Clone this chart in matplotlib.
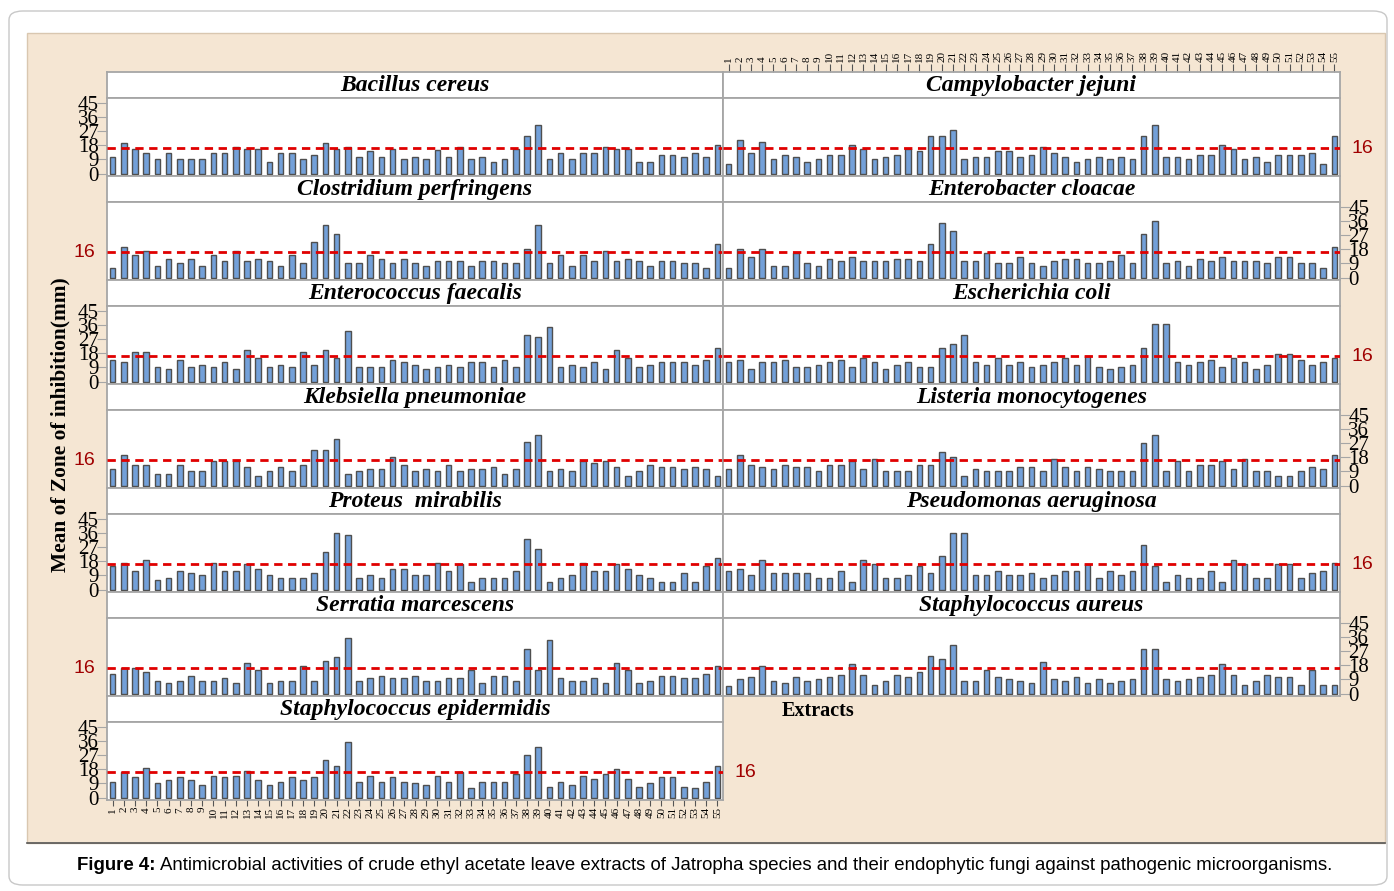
import numpy as np
import matplotlib.pyplot as plt
import matplotlib as mpl
from matplotlib.patches import Rectangle, FancyBboxPatch

mpl.rcParams['font.family'] = 'Liberation Serif'

# mean zone of inhibition (mm) for extracts 1..55
extracts = np.arange(1, 56)

bacillus_cereus = [10.5, 19.7, 15.8, 13, 9, 13, 9, 9, 9, 13, 13, 17, 15.8, 15.8, 7.7, 13, 13, 9, 11.8, 19.7,
                   15.8, 17, 10.5, 14.3, 10.5, 15.8, 9, 10.5, 9, 15, 10.5, 17, 9, 10.5, 7.7, 9, 15.8, 24, 30.6, 9,
                   13, 9, 13, 13, 17, 15.8, 15.8, 7.7, 7.7, 11.8, 11.8, 10.5, 13, 10.5, 18.4]
campylobacter_jejuni = [6.4, 21.2, 13, 19.9, 9, 11.8, 10.5, 7.7, 9, 11.8, 11.8, 18.4, 15.8, 9, 10.5, 11.8, 15.8, 14.3, 24, 24,
                        28, 9, 10.5, 10.5, 14.3, 14.3, 10.5, 11.8, 17, 13, 10.5, 7.7, 9, 10.5, 9, 10.5, 9, 24, 30.6, 10.5,
                        10.5, 9, 11.8, 11.8, 18.4, 15.8, 9, 10.5, 7.7, 11.8, 11.8, 11.8, 13, 6.4, 24]
clostridium_perfringens = [6, 19.7, 14.3, 17, 7.5, 11.6, 9, 11.6, 7.5, 14.3, 10.3, 17, 10.3, 11.6, 10.3, 7.5, 14.3, 9, 22.5, 33.2,
                           28, 9, 9, 14.3, 11.6, 9, 11.6, 9, 7.5, 10.3, 10.3, 10.3, 7.5, 10.3, 10.3, 9, 9, 18.4, 33.2, 9,
                           14.3, 7.5, 14.3, 10.3, 17, 10.3, 11.6, 10.3, 7.5, 10.3, 10.3, 9, 9, 6.2, 21.2]
enterobacter_cloacae = [6, 18.4, 13, 18.4, 7.5, 7.5, 15.6, 9, 7.5, 11.6, 10.3, 13, 10.3, 10.3, 10.3, 11.6, 11.6, 10.3, 21.2, 34.7,
                        29.3, 10.3, 10.3, 15.6, 9, 9, 13, 9, 7.5, 10.3, 11.6, 11.6, 9, 9, 10.3, 14.3, 9, 28, 36, 9,
                        10.3, 7.5, 11.6, 10.3, 13, 10.3, 10.3, 10.3, 9, 13, 13, 9, 9, 6.2, 19.7]
enterococcus_faecalis = [13.5, 12.2, 18.8, 18.8, 9.4, 7.9, 13.5, 9.4, 10.7, 9.4, 12.2, 7.9, 20.1, 14.8, 9.4, 10.7, 9.4, 18.8, 10.7, 20.1,
                         14.8, 32, 9.4, 9.4, 9.4, 13.5, 12.2, 10.7, 7.9, 9.4, 10.7, 9.4, 12.2, 12.2, 9.4, 13.5, 9.4, 29.5, 28.3, 34.9,
                         9.4, 10.7, 9.4, 12.2, 7.9, 20.1, 14.8, 9.4, 10.7, 12.2, 12.2, 12.2, 10.7, 13.5, 21.4]
escherichia_coli = [12.2, 13.5, 7.9, 12.2, 12.2, 13.5, 9.4, 9.4, 10.7, 12.2, 13.5, 9.4, 14.8, 12.2, 7.9, 10.7, 12.2, 9.4, 9.4, 21.4,
                    24.2, 29.5, 12.2, 10.7, 14.8, 10.7, 12.2, 9.4, 10.7, 12.2, 14.8, 10.7, 16, 9.4, 7.9, 9.4, 10.7, 21.4, 36.4, 36.4,
                    12.2, 10.7, 12.2, 13.5, 9.4, 14.8, 12.2, 7.9, 10.7, 17.3, 17.3, 13.5, 10.7, 12.2, 14.8]
klebsiella_pneumoniae = [10.3, 19.7, 13, 13, 7.5, 7.5, 13, 9, 9, 15.8, 15.8, 15.8, 11.6, 6.2, 9, 11.6, 9, 13, 22.5, 22.5,
                         29.3, 7.5, 9, 10.3, 10.3, 18.4, 13, 9, 10.3, 9, 13, 9, 10.3, 10.3, 11.6, 7.5, 10.3, 28, 32, 9,
                         10.3, 9, 15.8, 14.3, 15.8, 11.6, 6.2, 9, 13, 11.6, 11.6, 10.3, 11.6, 10.3, 6.2]
listeria_monocytogenes = [10.3, 19.7, 13, 11.6, 10.3, 13, 11.6, 11.6, 9, 13, 13, 15.8, 10.3, 17, 9, 9, 9, 13, 13, 21.2,
                          18.4, 6.2, 10.3, 9, 9, 9, 11.6, 11.6, 9, 17, 11.6, 9, 11.6, 10.3, 9, 9, 9, 26.8, 32, 9,
                          15.8, 9, 13, 13, 15.8, 10.3, 17, 9, 9, 6.2, 6.2, 9, 11.6, 10.3, 19.7]
proteus_mirabilis = [14.8, 17.1, 11.8, 18.6, 6.4, 7.7, 11.8, 10.5, 9.2, 17.1, 11.8, 11.8, 16, 13.3, 9.2, 7.7, 7.7, 7.7, 10.5, 24.2,
                     36.2, 34.9, 7.7, 9.2, 7.7, 13.3, 13.3, 9.2, 9.2, 17.1, 11.8, 16, 5.1, 7.7, 7.7, 7.7, 11.8, 32.1, 25.5, 5.1,
                     7.7, 9.2, 17.1, 11.8, 11.8, 16, 13.3, 9.2, 7.7, 5.1, 5.1, 10.5, 5.1, 14.8, 19.9]
pseudomonas_aeruginosa = [11.8, 13.3, 9.2, 18.6, 10.5, 10.5, 10.5, 10.5, 7.7, 7.7, 11.8, 5.1, 18.6, 16, 7.7, 7.7, 9.2, 14.8, 10.5, 21.4,
                          36.2, 36.2, 9.2, 9.2, 11.8, 9.2, 9.2, 10.5, 7.7, 9.2, 11.8, 11.8, 16, 7.7, 11.8, 9.2, 11.8, 28.3, 14.8, 5.1,
                          9.2, 7.7, 7.7, 11.8, 5.1, 18.6, 16, 7.7, 7.7, 16, 16, 7.7, 10.5, 11.8, 17.1]
serratia_marcescens = [12.5, 16.5, 16.5, 13.7, 8.3, 7, 8.3, 11, 8.3, 8.3, 9.7, 7, 19.3, 15.2, 7, 8.3, 8.3, 17.7, 8.3, 20.5,
                       23.1, 35.3, 8.3, 9.7, 11, 9.7, 9.7, 11, 8.3, 8.3, 9.7, 9.7, 15.2, 7, 11, 11, 8.3, 28.6, 15.2, 34,
                       9.7, 8.3, 8.3, 9.7, 7, 19.3, 15.2, 7, 8.3, 11, 11, 9.7, 9.7, 12.5, 17.7]
staphylococcus_aureus = [5.1, 9.4, 10.7, 17.6, 7.9, 6.6, 10.7, 7.9, 9.4, 10.7, 12, 18.9, 12, 5.4, 7.9, 12, 10.7, 13.5, 24.2, 21.8,
                         31, 7.9, 7.9, 15, 10.7, 9.4, 7.9, 6.6, 20.3, 9.4, 7.9, 10.7, 6.6, 9.4, 6.6, 7.9, 9.4, 28.5, 28.5, 9.4,
                         7.9, 9.4, 10.7, 12, 18.9, 12, 5.4, 7.9, 12, 10.7, 10.7, 5.4, 15, 5.4, 5.4]
staphylococcus_epidermidis = [10, 16, 13, 19, 9, 11, 13, 11, 8, 14, 13, 14, 17, 11, 8, 10, 13, 11, 13, 24,
                              20, 35, 10, 14, 10, 13, 10, 9, 8, 14, 10, 16, 6, 10, 10, 10, 15, 27, 32, 7,
                              10, 8, 14, 12, 15, 18, 12, 7, 9, 13, 13, 7, 6, 10, 20]

organisms = ['Bacillus cereus', 'Campylobacter jejuni', 'Clostridium perfringens', 'Enterobacter cloacae',
             'Enterococcus faecalis', 'Escherichia coli', 'Klebsiella pneumoniae', 'Listeria monocytogenes',
             'Proteus  mirabilis', 'Pseudomonas aeruginosa', 'Serratia marcescens', 'Staphylococcus aureus',
             'Staphylococcus epidermidis']
values = [bacillus_cereus, campylobacter_jejuni, clostridium_perfringens, enterobacter_cloacae,
          enterococcus_faecalis, escherichia_coli, klebsiella_pneumoniae, listeria_monocytogenes,
          proteus_mirabilis, pseudomonas_aeruginosa, serratia_marcescens, staphylococcus_aureus,
          staphylococcus_epidermidis]

ref_line = 16
yticks = [0, 9, 18, 27, 36, 45]

W, H = 1394, 891
fig = plt.figure(figsize=(W / 100, H / 100), dpi=100)


def box(x0, y0, x1, y1):
    # pixel box (top-left origin) -> figure fraction rect
    return [x0 / W, 1 - y1 / H, (x1 - x0) / W, (y1 - y0) / H]


# page frame and beige panel, kept behind the axes
fig.patches.append(FancyBboxPatch((9 / W, 1 - 885 / H), 1378 / W, 874 / H,
                                  boxstyle='round,pad=0,rounding_size=0.01',
                                  transform=fig.transFigure, fc='white', ec='#c8c8c8', lw=1, zorder=-3))
fig.patches.append(Rectangle((27 / W, 1 - 843 / H), 1358 / W, 810 / H, transform=fig.transFigure,
                             fc='#f5e6d3', ec='#d9c7b0', lw=1, zorder=-2))
fig.lines.append(plt.Line2D([27 / W, 1385 / W], [1 - 843 / H, 1 - 843 / H], transform=fig.transFigure,
                            color='#555555', lw=1.2, zorder=-1))

frame_col = '#a6a6a6'
col_x = [(107, 723), (723, 1340)]

for k, (name, vals) in enumerate(zip(organisms, values)):
    row, col = divmod(k, 2)
    x0, x1 = col_x[col]
    top = 72 + 104 * row
    strip = fig.add_axes(box(x0, top, x1, top + 26))
    ax = fig.add_axes(box(x0, top + 26, x1, top + 104))

    strip.set_xlim(0.5, 55.5)
    strip.set_yticks([])
    strip.set_xticks([])
    strip.text(0.5, 0.47, name, transform=strip.transAxes, ha='center', va='center',
               fontsize=17, fontweight='bold', fontstyle='italic')

    ax.bar(extracts, vals, width=0.5, color='#73a0d9', edgecolor='#4f4f4f', linewidth=1.0, zorder=2)
    ax.axhline(ref_line, color='#e00000', lw=2, dashes=(3, 2), zorder=3)
    ax.set_xlim(0.5, 55.5)
    ax.set_ylim(-1.5, 48)
    ax.set_xticks([])

    for a in (strip, ax):
        for sp in a.spines.values():
            sp.set_color(frame_col)
            sp.set_linewidth(1.3)

    # left column: odd rows carry the scale, even rows the reference value; right column swaps
    show_scale = (row % 2 == 0) if col == 0 else (row % 2 == 1)
    side = 'left' if col == 0 else 'right'
    if show_scale:
        ax.set_yticks(yticks)
        ax.tick_params(axis='y', which='both', left=(side == 'left'), right=(side == 'right'),
                       labelleft=(side == 'left'), labelright=(side == 'right'),
                       length=7, color=frame_col, labelsize=15, pad=-1)
    else:
        ax.set_yticks([])
    if not show_scale or (col == 0 and row == 6):
        lx = -0.036 if (col == 0 and row != 6) else 1.036
        ax.text(lx, ref_line, '16', transform=ax.get_yaxis_transform(), ha='center', va='center',
                color='#a00000', fontsize=14, family='Liberation Sans')

    if row == 0 and col == 1:
        strip.xaxis.tick_top()
        strip.set_xticks(extracts)
        strip.set_xticklabels([str(i) for i in extracts], rotation=90, fontsize=8)
        strip.tick_params(axis='x', length=6, color='#555555', pad=1)
    if row == 6:
        ax.set_xticks(extracts)
        ax.set_xticklabels([str(i) for i in extracts], rotation=90, fontsize=8)
        ax.tick_params(axis='x', length=4, color='#555555', pad=1)

fig.text(818 / W, 1 - 711 / H, 'Extracts', ha='center', va='center', fontsize=14.5, fontweight='bold')
fig.text(60 / W, 1 - 425 / H, 'Mean of Zone of inhibition(mm)', ha='center', va='center',
         rotation=90, fontsize=15.4, fontweight='bold')

# caption
cap_y = 1 - 865 / H
t = fig.text(77 / W, cap_y, 'Figure 4:', ha='left', va='center', fontsize=13.4,
             fontweight='bold', family='Liberation Sans')
fig.canvas.draw()
bb = t.get_window_extent()
fig.text((bb.x1 + 4) / W, cap_y,
         'Antimicrobial activities of crude ethyl acetate leave extracts of Jatropha species and their '
         'endophytic fungi against pathogenic microorganisms.',
         ha='left', va='center', fontsize=13.4, family='Liberation Sans')

fig.savefig('out.png', dpi=100)
